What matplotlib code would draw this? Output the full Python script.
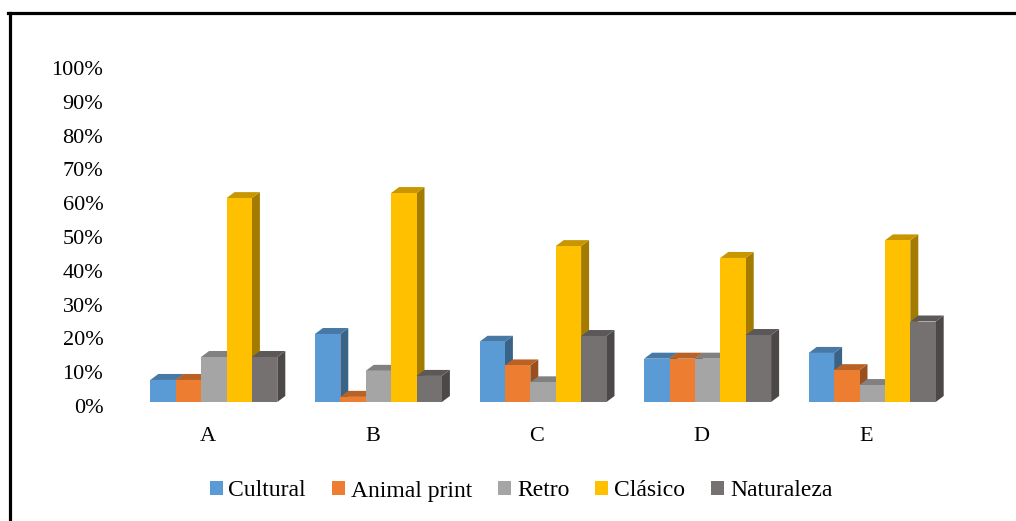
import numpy as np
import matplotlib
matplotlib.use('Agg')
import matplotlib.pyplot as plt
from matplotlib.patches import Polygon, Patch
from matplotlib.lines import Line2D
from matplotlib.colors import to_rgb

categories = ['A', 'B', 'C', 'D', 'E']
series = ['Cultural', 'Animal print', 'Retro', 'Clásico', 'Naturaleza']
cultural = [7.7, 21.3, 19.0, 14.0, 15.7]
animal_print = [7.7, 2.7, 12.0, 14.0, 10.6]
retro = [14.5, 10.4, 7.0, 14.0, 6.2]
clasico = [61.5, 63.0, 47.3, 43.8, 49.0]
naturaleza = [14.5, 8.9, 20.7, 21.0, 25.0]
yticks = [0, 10, 20, 30, 40, 50, 60, 70, 80, 90, 100]

values = [cultural, animal_print, retro, clasico, naturaleza]
colors = ['#5B9BD5', '#ED7D31', '#A5A5A5', '#FFC000', '#767171']

plt.rcParams['font.family'] = ['Liberation Serif', 'DejaVu Serif']

W, H = 1016, 521
fig = plt.figure(figsize=(W / 100, H / 100), dpi=100)
ax = fig.add_axes([125.5 / W, (H - 406) / H, 823 / W, 338 / H])
ax.set_xlim(-0.5, len(categories) - 0.5)
ax.set_ylim(0, 100)
for s in ax.spines.values():
    s.set_visible(False)

# pixel -> data sizes
px_x = (ax.get_xlim()[1] - ax.get_xlim()[0]) / 823
px_y = 100 / 338
dx, dy = 8 * px_x, 6 * px_y
base = 4 * px_y
bw = 25.4 * px_x
shift = 6 * px_x

def shade(c, f):
    return tuple(v * f for v in to_rgb(c))

z = 2
for i in range(len(categories)):
    x0 = i - 2.5 * bw + shift
    for j, vals in enumerate(values):
        v = vals[i]
        xl, xr = x0 + j * bw, x0 + (j + 1) * bw
        c = colors[j]
        front = Polygon([(xl, base), (xr, base), (xr, v), (xl, v)],
                        closed=True, fc=c, ec='none', zorder=z, clip_on=False)
        top = Polygon([(xl, v), (xr, v), (xr + dx, v + dy), (xl + dx, v + dy)],
                      closed=True, fc=shade(c, 0.78), ec='none', zorder=z, clip_on=False)
        side = Polygon([(xr, base), (xr + dx, base + dy), (xr + dx, v + dy), (xr, v)],
                       closed=True, fc=shade(c, 0.64), ec='none', zorder=z, clip_on=False)
        for p in (side, top, front):
            ax.add_patch(p)
        z += 1

ax.set_xticks(range(len(categories)))
ax.set_xticklabels(categories, fontsize=16)
ax.set_yticks(yticks)
ax.set_yticklabels(['%d%%' % t for t in yticks], fontsize=16)
ax.tick_params(axis='both', length=0)
ax.tick_params(axis='y', pad=16)
ax.tick_params(axis='x', pad=15)

handles = [Patch(facecolor=c, edgecolor='none') for c in colors]
fig.legend(handles, series, loc='center', bbox_to_anchor=(521 / W, (H - 491) / H),
           ncol=5, frameon=False, fontsize=17, handlelength=0.55, handleheight=0.55,
           handletextpad=0.25, columnspacing=1.1)

# outer frame (top and left edges visible)
fig.add_artist(Line2D([9.5 / W, 9.5 / W], [0, (H - 12.5) / H], color='black',
                      lw=2.3, transform=fig.transFigure))
fig.add_artist(Line2D([8 / W, 1], [(H - 12.5) / H, (H - 12.5) / H], color='black',
                      lw=2.3, transform=fig.transFigure))

fig.savefig('out.png', dpi=100)
